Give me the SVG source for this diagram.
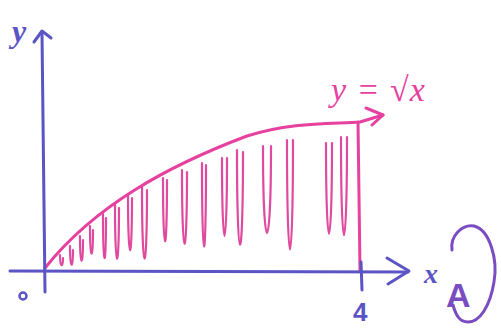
<svg xmlns="http://www.w3.org/2000/svg" width="501" height="329" viewBox="0 0 501 329">
<style>
.ax{fill:none;stroke:#5b54c4;stroke-width:3;stroke-linecap:round;stroke-linejoin:round}
.pk{fill:none;stroke:#e6419f;stroke-width:3;stroke-linecap:round;stroke-linejoin:round}
.ht{fill:none;stroke:#e04a9e;stroke-width:2.2;stroke-linecap:round}
.lb{font-family:"Liberation Serif",serif;font-style:italic}
</style>
<rect width="501" height="329" fill="#ffffff"/>
<g id="hatch">
<path class="ht" d="M60,255 C60,268 63,268 63,258"/>
<path class="ht" d="M70,246 C70,270 73,270 73,250"/>
<path class="ht" d="M80,236 C80,268 83,268 83,240"/>
<path class="ht" d="M90,226 C90,262 93,262 93,230"/>
<path class="ht" d="M103,214 C103,272 106,272 106,218"/>
<path class="ht" d="M115,205 C115,276 119,276 119,208"/>
<path class="ht" d="M128,194 C128,268 132,268 132,198"/>
<path class="ht" d="M142,186 C142,282 147,282 147,190"/>
<path class="ht" d="M163,178 C163,262 167,262 167,180"/>
<path class="ht" d="M182,170 C182,268 187,268 187,172"/>
<path class="ht" d="M202,163 C202,274 206,274 206,165"/>
<path class="ht" d="M222,158 C222,262 227,262 227,158"/>
<path class="ht" d="M237,150 C237,276 243,276 243,152"/>
<path class="ht" d="M263,146 C263,262 271,262 271,146"/>
<path class="ht" d="M287,140 C287,286 293,286 293,140"/>
<path class="ht" d="M326,143 C326,264 332,264 332,143"/>
<path class="ht" d="M341,137 C341,268 347,268 347,137"/>
</g>
<g id="curve">
<path class="pk" d="M45,268 C95,205 170,165 247,136 C290,122 330,124 360,122 L383,115"/>
<path class="pk" d="M366,108 L383,115 L372,125"/>
<path class="pk" d="M358,122 L360,270"/>
</g>
<g id="axes">
<path class="ax" d="M45,292 L42,33"/>
<path class="ax" d="M34,42 L42,31 L51,38"/>
<path class="ax" d="M10,271 L408,272"/>
<path class="ax" d="M387,258 L409,271 L388,284"/>
<path class="ax" d="M361,262 L362,290"/>
</g>
<g id="labels" fill="#5b54c4">
<text class="lb" x="12" y="42" font-size="32" font-weight="bold">y</text>
<text class="lb" x="424" y="283" font-size="28" font-weight="bold">x</text>
<text x="353" y="321" font-size="26" font-weight="bold" font-family="Liberation Sans,sans-serif">4</text>
<circle cx="23" cy="296" r="3.5" fill="none" stroke="#5b54c4" stroke-width="2.5"/>
</g>
<g id="func-label">
<text class="lb" x="331" y="101" font-size="34" fill="#e6419f" letter-spacing="1">y = √x</text>
</g>
<g id="mark">
<path d="M452,250 C450,236 462,224 474,226 C490,230 498,260 494,282 C490,306 480,322 468,322 C460,322 456,316 453,305" fill="none" stroke="#7a4cc2" stroke-width="3" stroke-linecap="round"/>
<text x="446" y="307" font-size="34" font-weight="bold" font-family="Liberation Sans,sans-serif" fill="#7a4cc2">A</text>
</g>
</svg>
